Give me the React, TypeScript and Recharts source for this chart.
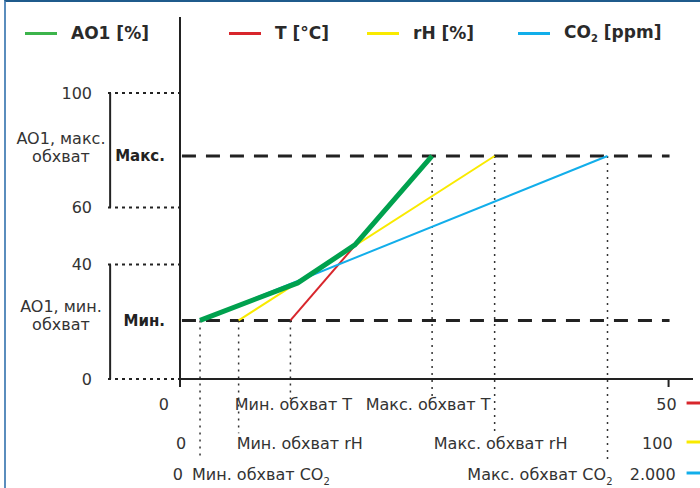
import React from 'react'
import { ComposedChart, Line, XAxis, YAxis, ReferenceLine, Legend } from 'recharts'

const FONT = '"DejaVu Sans", Verdana, sans-serif'

// AO1 output level at the two dashed lines, %
const OUT_MIN = 20.5
const OUT_MAX = 78

// sensor full scales and the min / max ramp points (sensor units)
const T_SCALE = 50
const T_RANGE = [11.3, 25.8]
const RH_SCALE = 100
const RH_RANGE = [12, 64.4]
const CO2_SCALE = 2000
const CO2_RANGE = [82, 1750]

// AO1 follows the highest signal; knee points (x in % of scale)
const AO1_X = [4.1, 24.1, 35.8, 51.6]
const AO1_Y = [20.5, 33.6, 46.9, 78]

const Y_TICKS = [0, 40, 60, 100]
const T_LABELS = ['0', 'Мин. обхват T', 'Макс. обхват T', '50']
const RH_LABELS = ['0', 'Мин. обхват rH', 'Макс. обхват rH', '100']
const CO2_LABELS = ['0', 'Мин. обхват CO₂', 'Макс. обхват CO₂', '2.000']

const COLORS = { ao1: '#00a14e', t: '#d8262c', rh: '#f9ea00', co2: '#12aeea' }

const pct = (v: number, scale: number) => (v / scale) * 100
const ramp = (range: number[], scale: number) => [
  { x: pct(range[0], scale), y: OUT_MIN },
  { x: pct(range[1], scale), y: OUT_MAX },
]
const axisTicks = (range: number[], scale: number) => [0, pct(range[0], scale), pct(range[1], scale), 100]

const tData = ramp(T_RANGE, T_SCALE)
const rhData = ramp(RH_RANGE, RH_SCALE)
const co2Data = ramp(CO2_RANGE, CO2_SCALE)
const ao1Data = AO1_X.map((x, i) => ({ x, y: AO1_Y[i] }))

type Anchor = 'start' | 'middle' | 'end'
type TickPos = [Anchor, number]

// label placement per row (anchor, dx)
const T_POS: TickPos[] = [['end', -11], ['middle', 3], ['middle', -4], ['end', 8]]
const RH_POS: TickPos[] = [['middle', 1], ['start', -2], ['middle', 6], ['end', 4]]
const CO2_POS: TickPos[] = [['end', 3], ['start', -8], ['end', 5], ['end', 7]]

// axis ids: the bottom axes are stacked in id order, a_ nearest the plot
const AX_T = 'a_t'
const AX_RH = 'b_rh'
const AX_CO2 = 'c_co2'

function labelText(s: string) {
  if (!s.endsWith('CO₂')) return s
  return (
    <>
      {s.slice(0, -1)}
      <tspan dy={5} fontSize={10}>2</tspan>
    </>
  )
}

const rowTick = (labels: string[], pos: TickPos[], offset: number, color: string, marks: boolean) =>
  (props: any) => {
    const { x, y, index } = props
    const [anchor, dx] = pos[index] ?? ['middle', 0]
    const last = index === labels.length - 1
    return (
      <g>
        {marks && (index === 0 || last) && (
          <line x1={x} x2={x} y1={y} y2={y + 8} stroke="#222" strokeWidth={2} />
        )}
        <text x={x + dx} y={y + offset} dy="0.35em" textAnchor={anchor} fontSize={16} fontFamily={FONT} fill="#333">
          {labelText(labels[index])}
        </text>
        {last && <line x1={x + 18} x2={x + 34} y1={y + offset - 1} y2={y + offset - 1} stroke={color} strokeWidth={3} />}
      </g>
    )
  }

function LevelLabel({ viewBox, bold, lines, shifts }: any) {
  if (!viewBox) return null
  const { x, y } = viewBox
  const cx = x - 121
  return (
    <g fontFamily={FONT}>
      <text x={x - 17} y={y} dy="0.35em" textAnchor="end" fontSize={15} fontWeight="bold" fill="#222">{bold}</text>
      <text textAnchor="middle" fontSize={16} fill="#333">
        <tspan x={cx} y={y + shifts[0]} dy="0.35em">{lines[0]}</tspan>
        <tspan x={cx} y={y + shifts[1]} dy="0.35em">{lines[1]}</tspan>
      </text>
    </g>
  )
}

const LEGEND_ORDER = ['AO1 [%]', 'T [°C]', 'rH [%]', 'CO₂ [ppm]']
const LEGEND_LEFT = [25, 229, 367, 518]

function LegendContent({ payload }: any) {
  const items = [...(payload || [])].sort((a, b) => LEGEND_ORDER.indexOf(a.value) - LEGEND_ORDER.indexOf(b.value))
  return (
    <div style={{ position: 'relative', width: 700, height: 26, fontFamily: FONT, fontSize: 17, fontWeight: 'bold', color: '#2a2a2a' }}>
      {items.map((e: any, i: number) => (
        <div key={e.value} style={{ position: 'absolute', left: LEGEND_LEFT[i], top: 0, height: 26, display: 'flex', alignItems: 'center', whiteSpace: 'nowrap' }}>
          <span style={{ display: 'inline-block', width: 32, height: 3, background: i === 0 ? '#3cb44b' : e.color, marginRight: 14 }} />
          {e.value.startsWith('CO₂') ? (
            <span>CO<sub style={{ fontSize: 10 }}>2</sub> [ppm]</span>
          ) : (
            <span>{e.value}</span>
          )}
        </div>
      ))}
    </div>
  )
}

const dotted = { stroke: '#333', strokeWidth: 1.5, strokeDasharray: '2 5' }
const dashed = { stroke: '#222', strokeWidth: 3, strokeDasharray: '14 10' }

export default function App() {
  const drops = [
    { id: AX_T, data: tData, depth: -7 },
    { id: AX_RH, data: rhData, depth: -19 },
    { id: AX_CO2, data: co2Data, depth: -28.5 },
  ]
  return (
    <div style={{ position: 'absolute', left: 0, top: 0, width: 700, height: 488, background: '#fff', overflow: 'hidden' }}>
      <div style={{ position: 'absolute', left: 4, top: 0, width: 700, height: 490, borderTop: '2px solid #1f5b8c', borderLeft: '2px solid #5a8dbd', boxSizing: 'border-box' }} />
      <ComposedChart width={700} height={488} margin={{ top: 17, right: 7, bottom: 0, left: 0 }} style={{ position: 'absolute', left: 0, top: 0 }}>
        <XAxis xAxisId={AX_T} dataKey="x" type="number" domain={[0, 105]} allowDataOverflow ticks={axisTicks(T_RANGE, T_SCALE)}
          interval={0} height={38} tickSize={0} tickMargin={0} tickLine={false}
          axisLine={{ stroke: '#222', strokeWidth: 2 }} tick={rowTick(T_LABELS, T_POS, 25, COLORS.t, true)} />
        <XAxis xAxisId={AX_RH} dataKey="x" type="number" domain={[0, 105]} allowDataOverflow ticks={axisTicks(RH_RANGE, RH_SCALE)}
          interval={0} height={38} tickSize={0} tickMargin={0} tickLine={false} axisLine={false}
          tick={rowTick(RH_LABELS, RH_POS, 26, COLORS.rh, false)} />
        <XAxis xAxisId={AX_CO2} dataKey="x" type="number" domain={[0, 105]} allowDataOverflow ticks={axisTicks(CO2_RANGE, CO2_SCALE)}
          interval={0} height={33} tickSize={0} tickMargin={0} tickLine={false} axisLine={false}
          tick={rowTick(CO2_LABELS, CO2_POS, 19, COLORS.co2, false)} />
        <YAxis type="number" domain={[0, 126.6]} allowDataOverflow ticks={Y_TICKS} interval={0} width={180}
          tickSize={72} tickMargin={16} axisLine={{ stroke: '#222', strokeWidth: 2 }}
          tickLine={{ stroke: '#222', strokeWidth: 2, strokeDasharray: '3 4' }}
          tick={{ fill: '#333', fontSize: 16, fontFamily: FONT }} />

        {/* brackets on the left of the AO1 axis */}
        <ReferenceLine xAxisId={AX_T} ifOverflow="visible" segment={[{ x: -14.3, y: 100 }, { x: -14.3, y: 60 }]} stroke="#222" strokeWidth={2} />
        <ReferenceLine xAxisId={AX_T} ifOverflow="visible" segment={[{ x: -14.3, y: 40 }, { x: -14.3, y: 0 }]} stroke="#222" strokeWidth={2} />

        {/* min / max output levels */}
        <ReferenceLine xAxisId={AX_T} ifOverflow="visible" segment={[{ x: 0.4, y: OUT_MAX }, { x: 100.2, y: OUT_MAX }]} {...dashed}
          label={(p: any) => <LevelLabel {...p} bold="Макс." lines={['AO1, макс.', 'обхват']} shifts={[-18, 0]} />} />
        <ReferenceLine xAxisId={AX_T} ifOverflow="visible" segment={[{ x: 0.4, y: OUT_MIN }, { x: 100.2, y: OUT_MIN }]} {...dashed}
          label={(p: any) => <LevelLabel {...p} bold="Мин." lines={['AO1, мин.', 'обхват']} shifts={[-14, 4]} />} />

        {/* drop lines from the ramp ends to the axis labels */}
        {drops.flatMap(d => d.data.map((pt, i) => (
          <ReferenceLine key={d.id + i} xAxisId={d.id} ifOverflow="visible"
            segment={[{ x: pt.x, y: pt.y }, { x: pt.x, y: d.depth }]} {...dotted} />
        )))}

        <Line xAxisId={AX_T} data={tData} dataKey="y" name="T [°C]" type="linear" stroke={COLORS.t} strokeWidth={2} dot={false} isAnimationActive={false} />
        <Line xAxisId={AX_RH} data={rhData} dataKey="y" name="rH [%]" type="linear" stroke={COLORS.rh} strokeWidth={2} dot={false} isAnimationActive={false} />
        <Line xAxisId={AX_CO2} data={co2Data} dataKey="y" name="CO₂ [ppm]" type="linear" stroke={COLORS.co2} strokeWidth={2} dot={false} isAnimationActive={false} />
        <Line xAxisId={AX_T} data={ao1Data} dataKey="y" name="AO1 [%]" type="linear" stroke={COLORS.ao1} strokeWidth={5} dot={false} isAnimationActive={false} />

        <Legend layout="horizontal" verticalAlign="middle" align="center" content={LegendContent}
          wrapperStyle={{ top: 20, left: 0, width: 700 }} />
      </ComposedChart>
    </div>
  )
}
